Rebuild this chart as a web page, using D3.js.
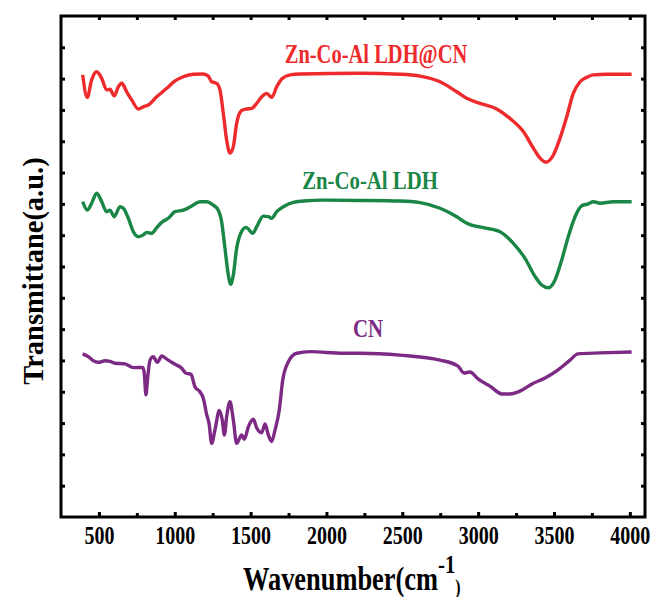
<!DOCTYPE html>
<html>
<head>
<meta charset="utf-8">
<script src="https://d3js.org/d3.v7.min.js"></script>
<style>
  body { margin: 0; background: #fff; }
  text { font-family: "Liberation Serif", "Times New Roman", serif; font-weight: bold; }
</style>
</head>
<body>
<div id="chart"></div>
<script>
// Zn-Co-Al LDH@CN (top, red)
const ldhcnWave = [393, 423, 452, 485, 518, 551, 573, 601, 628, 650, 683, 716, 760, 793, 826, 881, 947, 1002, 1056, 1122, 1188, 1221, 1243, 1276, 1298, 1320, 1342, 1364, 1386, 1408, 1441, 1474, 1507, 1540, 1573, 1606, 1639, 1672, 1705, 1760, 1826, 2221, 2485, 2617, 2749, 2859, 2925, 3012, 3122, 3210, 3298, 3364, 3408, 3447, 3496, 3540, 3584, 3627, 3672, 3716, 3759, 3848, 4012];
const ldhcnT = [14.12, 13.40, 13.96, 14.22, 14.01, 13.64, 13.66, 13.45, 13.74, 13.85, 13.58, 13.32, 13.03, 13.10, 13.16, 13.42, 13.69, 13.93, 14.06, 14.14, 14.15, 14.08, 13.90, 13.85, 13.64, 12.89, 12.04, 11.62, 11.83, 12.57, 12.98, 13.03, 13.05, 13.21, 13.42, 13.53, 13.40, 13.74, 13.99, 14.12, 14.15, 14.17, 14.14, 14.08, 13.90, 13.58, 13.37, 13.21, 13.03, 12.73, 12.31, 11.78, 11.46, 11.33, 11.56, 12.10, 12.78, 13.53, 13.90, 14.04, 14.12, 14.14, 14.14];

// Zn-Co-Al LDH (middle, green)
const ldhWave = [393, 423, 452, 485, 518, 551, 573, 601, 639, 661, 694, 727, 760, 793, 815, 848, 881, 914, 957, 1002, 1056, 1112, 1166, 1211, 1254, 1287, 1309, 1331, 1353, 1369, 1386, 1408, 1435, 1470, 1514, 1540, 1584, 1617, 1639, 1672, 1716, 1781, 1870, 1957, 2221, 2485, 2617, 2749, 2859, 2925, 3034, 3144, 3232, 3309, 3375, 3419, 3463, 3507, 3551, 3594, 3639, 3683, 3726, 3759, 3803, 3891, 4012];
const ldhT = [10.07, 9.80, 10.02, 10.34, 10.07, 9.75, 9.80, 9.59, 9.91, 9.86, 9.54, 9.11, 8.95, 9.01, 9.09, 9.06, 9.24, 9.41, 9.54, 9.75, 9.80, 9.93, 10.07, 10.07, 9.96, 9.80, 9.43, 8.58, 7.73, 7.43, 7.73, 8.58, 9.06, 9.25, 9.06, 9.27, 9.61, 9.59, 9.54, 9.75, 9.91, 10.05, 10.10, 10.12, 10.11, 10.09, 10.04, 9.86, 9.59, 9.38, 9.24, 9.11, 8.74, 8.26, 7.68, 7.41, 7.32, 7.57, 8.21, 8.95, 9.59, 9.94, 10.00, 10.07, 10.02, 10.07, 10.07];

// CN (bottom, purple)
const cnWave = [393, 430, 463, 496, 540, 573, 606, 672, 727, 789, 799, 810, 822, 837, 858, 885, 914, 957, 1002, 1046, 1074, 1107, 1133, 1166, 1188, 1211, 1226, 1243, 1265, 1294, 1313, 1327, 1342, 1364, 1386, 1408, 1441, 1458, 1485, 1518, 1540, 1573, 1595, 1617, 1639, 1661, 1689, 1712, 1749, 1804, 1892, 2111, 2221, 2485, 2749, 2867, 2907, 2946, 2999, 3078, 3157, 3210, 3276, 3355, 3441, 3527, 3606, 3658, 3803, 4012];
const cnT = [5.21, 5.12, 4.99, 4.94, 4.99, 4.97, 4.91, 4.89, 4.77, 4.78, 4.59, 3.90, 4.48, 5.01, 5.12, 4.94, 5.14, 5.01, 4.88, 4.75, 4.59, 4.56, 4.16, 4.00, 3.79, 3.26, 2.99, 2.35, 2.78, 3.40, 3.10, 2.62, 3.20, 3.68, 3.10, 2.35, 2.62, 2.48, 2.88, 3.12, 2.85, 2.69, 2.97, 2.62, 2.41, 2.78, 3.42, 4.38, 4.96, 5.23, 5.28, 5.23, 5.23, 5.17, 5.01, 4.82, 4.60, 4.63, 4.41, 4.18, 3.93, 3.93, 4.02, 4.25, 4.44, 4.70, 5.01, 5.21, 5.24, 5.27];

const xMajor = [500, 1000, 1500, 2000, 2500, 3000, 3500, 4000];
const xMinor = [750, 1250, 1750, 2250, 2750, 3250, 3750];
const yTicks = [1, 2, 3, 4, 5, 6, 7, 8, 9, 10, 11, 12, 13, 14, 15];

const W = 666, H = 597;
const m = { left: 61, right: 21, top: 16, bottom: 80 };
const sx = 0.8; // condensed look of the bold serif font

const svg = d3.select("#chart").append("svg")
    .attr("width", W)
    .attr("height", H);

const x = d3.scaleLinear().domain([250, 4100]).range([m.left, W - m.right]);
const y = d3.scaleLinear().domain([0, 16]).range([H - m.bottom, m.top]);

const line = d3.line()
    .x(d => x(d[0]))
    .y(d => y(d[1]))
    .curve(d3.curveMonotoneX);

const series = [
    { wave: ldhcnWave, t: ldhcnT, color: "#ee2a2c" },
    { wave: ldhWave, t: ldhT, color: "#1a8646" },
    { wave: cnWave, t: cnT, color: "#7d2a85" }
];

series.forEach(s => {
    svg.append("path")
        .datum(s.wave.map((w, i) => [w, s.t[i]]))
        .attr("fill", "none")
        .attr("stroke", s.color)
        .attr("stroke-width", 3.4)
        .attr("stroke-linejoin", "round")
        .attr("d", line);
});

// ticks, all pointing inward
function tickAxis(axis, tx, ty) {
    const g = svg.append("g")
        .attr("transform", "translate(" + tx + "," + ty + ")")
        .call(axis);
    g.select(".domain").remove();
    g.selectAll("line").attr("stroke", "#000").attr("stroke-width", 3);
    return g;
}

const bottomAxis = tickAxis(d3.axisBottom(x).tickValues(xMajor).tickSize(-5).tickPadding(0).tickFormat(d3.format("d")), 0, y(0));
bottomAxis.selectAll("text")
    .attr("y", 27)
    .attr("dy", 0)
    .attr("fill", "#000")
    .style("font-size", "25px")
    .attr("transform", "scale(" + 0.8 + ",1)");

tickAxis(d3.axisBottom(x).tickValues(xMinor).tickSize(-4).tickFormat(""), 0, y(0));
tickAxis(d3.axisTop(x).tickValues(xMajor).tickSize(-4).tickFormat(""), 0, y(16));
tickAxis(d3.axisTop(x).tickValues(xMinor).tickSize(-4).tickFormat(""), 0, y(16));
tickAxis(d3.axisLeft(y).tickValues(yTicks).tickSize(-4).tickFormat(""), x(250), 0);
tickAxis(d3.axisRight(y).tickValues(yTicks).tickSize(-4).tickFormat(""), x(4100), 0);

// frame
svg.append("rect")
    .attr("x", x(250))
    .attr("y", y(16))
    .attr("width", x(4100) - x(250))
    .attr("height", y(0) - y(16))
    .attr("fill", "none")
    .attr("stroke", "#000")
    .attr("stroke-width", 3);

// series labels
const labels = [
    { text: "Zn-Co-Al LDH@CN", cx: 376, by: 63, size: 27, k: 0.76, color: "#ee2a2c" },
    { text: "Zn-Co-Al LDH", cx: 370, by: 189, size: 26, k: 0.8, color: "#1a8646" },
    { text: "CN", cx: 368, by: 337, size: 26, k: 0.8, color: "#7d2a85" }
];
labels.forEach(l => {
    svg.append("text")
        .attr("transform", "translate(" + l.cx + "," + l.by + ") scale(" + l.k + ",1)")
        .attr("text-anchor", "middle")
        .attr("fill", l.color)
        .style("font-size", l.size + "px")
        .text(l.text);
});

// axis titles
const xt = svg.append("text")
    .attr("transform", "translate(243,590) scale(" + sx + ",1)")
    .attr("fill", "#000")
    .style("font-size", "33px");
xt.append("tspan").text("Wavenumber(cm");
xt.append("tspan").attr("dy", -17).style("font-size", "26px").text("-1");
xt.append("tspan").attr("dy", 21).style("font-size", "20px").text(")");

svg.append("text")
    .attr("transform", "translate(43,271) rotate(-90) scale(0.95,1)")
    .attr("text-anchor", "middle")
    .attr("fill", "#000")
    .style("font-size", "30px")
    .text("Transmittane(a.u.)");
</script>
</body>
</html>
